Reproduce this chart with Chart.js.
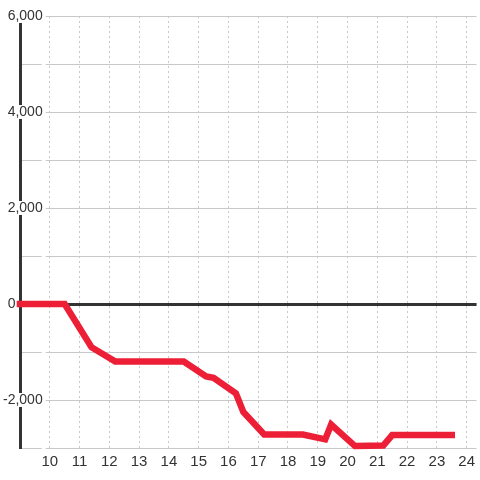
<!DOCTYPE html>
<html>
<head>
<meta charset="utf-8">
<script src="https://cdn.jsdelivr.net/npm/chart.js@4"></script>
<style>
  html, body { margin: 0; padding: 0; background: #fff; }
  #chart { display: block; }
</style>
</head>
<body>
<canvas id="chart" width="480" height="480"></canvas>
<script>
// series (x = hour, y = value)
const hours  = [9, 10.5, 11.4, 12.2, 14.5, 15.25, 15.5, 16.25, 16.5, 17.2, 18.5, 19.25, 19.45, 20.25, 21.2, 21.5, 23.5];
const values = [0, 0, -900, -1200, -1200, -1510, -1540, -1860, -2250, -2720, -2720, -2820, -2510, -2960, -2950, -2730, -2730];
// axis ticks
const xTicks = [10, 11, 12, 13, 14, 15, 16, 17, 18, 19, 20, 21, 22, 23, 24];
const yTicks = [-3000, -2000, -1000, 0, 1000, 2000, 3000, 4000, 5000, 6000];
const yLabelled = [-2000, 0, 2000, 4000, 6000];

const FONT = '"Liberation Sans", Arial, sans-serif';
const INK = '#333';

new Chart(document.getElementById('chart'), {
  type: 'line',
  data: {
    datasets: [{
      data: hours.map((h, i) => ({ x: h, y: values[i] })),
      borderColor: '#ed1f36',
      borderWidth: 6.5,
      borderCapStyle: 'square',
      borderJoinStyle: 'miter',
      tension: 0,
      pointRadius: 0,
      fill: false,
      clip: false
    }]
  },
  options: {
    responsive: false,
    animation: false,
    layout: { padding: { top: 16, left: 0, right: 0, bottom: 0 } },
    plugins: { legend: { display: false }, tooltip: { enabled: false } },
    scales: {
      x: {
        type: 'linear',
        min: 9,
        max: 9 + 460 / 30,
        afterBuildTicks: s => { s.ticks = xTicks.map(v => ({ value: v })); },
        afterFit: s => { s.height = 32; },
        grid: { color: '#c8c8c8', lineWidth: 1, drawTicks: false, z: -2 },
        border: { display: false, dash: [2, 3] },
        ticks: {
          padding: 5,
          color: INK,
          font: { family: FONT, size: 15 },
          callback: v => String(v)
        }
      },
      y: {
        min: -3000,
        max: 6000,
        afterBuildTicks: s => { s.ticks = yTicks.map(v => ({ value: v })); },
        afterFit: s => { s.width = 20; },
        grid: {
          drawTicks: false,
          color: c => c.tick && c.tick.value === 0 ? '#333' : '#c8c8c8',
          lineWidth: c => c.tick && c.tick.value === 0 ? 3 : 1
        },
        border: { display: true, color: '#333', width: 3 },
        ticks: {
          mirror: true,
          crossAlign: 'far',
          padding: -17,
          color: INK,
          font: { family: FONT, size: 14, lineHeight: 1 },
          showLabelBackdrop: true,
          backdropPadding: { top: 0, bottom: 0, left: 1, right: 3 },
          backdropColor: c => c.tick && c.tick.value === 0 ? 'rgba(0,0,0,0)' : '#fff',
          callback: v => {
            if (!yLabelled.includes(v)) return '';
            if (v === 0) return '0\u2007\u2007\u2007 ';
            return v.toLocaleString('en-US');
          }
        }
      }
    }
  }
});
</script>
</body>
</html>
